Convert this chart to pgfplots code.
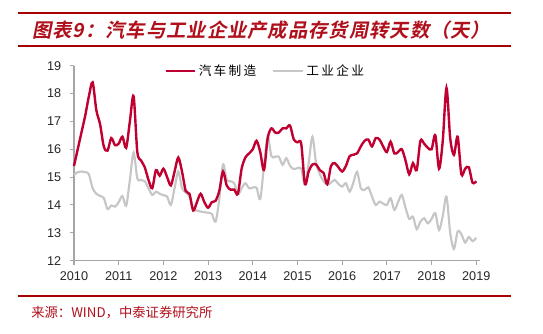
\documentclass[border=0pt]{standalone}
\usepackage{fontspec}
\usepackage{pgfplots}
\usepackage{pgfplotstable}
\pgfplotsset{compat=1.18}
\setmainfont{Liberation Sans}
\newfontfamily\cjk{Noto Sans CJK SC}
\newfontfamily\cjkls{Noto Sans CJK SC}[LetterSpace=18]
\newfontfamily\cjkb{Noto Sans CJK SC Bold}[FakeSlant=0.2, LetterSpace=5]
\definecolor{autored}{HTML}{C00030}
\definecolor{indgray}{HTML}{C6C6C6}
\definecolor{titlered}{HTML}{B0101C}
\definecolor{linered}{HTML}{A80000}
\definecolor{axgray}{HTML}{A6A6A6}

\pgfplotstableread{
m car ind
0 15.4 15.08
1 16.0 15.18
2 16.6 15.2
3 17.2 15.18
4 17.9 15.1
5 18.4 14.6
6 17.4 14.4
7 16.9 14.32
8 16.1 14.25
9 15.95 13.85
10 16.4 13.98
11 16.15 13.94
12 16.2 14.1
13 16.45 14.32
14 16.05 13.97
15 17.0 14.9
16 17.9 15.88
17 15.9 14.95
18 15.6 14.9
19 15.35 14.85
20 14.9 14.6
21 14.6 14.36
22 15.25 14.48
23 15.05 14.4
24 15.3 14.35
25 15.0 14.3
26 14.7 14.0
27 15.2 14.6
28 15.7 15.2
29 15.2 14.6
30 14.5 14.45
31 14.4 14.3
32 13.8 13.85
33 14.1 13.8
34 14.4 13.76
35 14.1 13.74
36 13.9 13.72
37 14.1 13.68
38 14.15 13.4
39 14.5 14.2
40 15.2 15.45
41 14.7 14.9
42 14.55 14.85
43 14.55 14.78
44 14.4 14.38
45 15.3 14.6
46 15.7 14.78
47 15.85 14.6
48 16.0 14.62
49 16.3 14.62
50 15.9 14.21
51 15.25 15.4
52 16.4 16.45
53 16.75 15.75
54 16.6 15.73
55 16.6 15.73
56 16.75 15.44
57 16.75 15.68
58 16.85 15.4
59 16.35 15.29
60 16.25 15.32
61 16.2 15.3
62 14.75 14.72
63 15.2 15.5
64 15.45 16.45
65 15.45 15.5
66 15.25 15.1
67 15.15 14.85
68 14.75 14.72
69 15.4 14.8
70 15.5 14.9
71 15.35 14.75
72 15.2 14.66
73 15.4 14.78
74 15.75 14.48
75 15.8 14.8
76 15.85 15.19
77 16.1 14.6
78 16.3 14.54
79 16.35 14.63
80 16.1 14.3
81 16.4 14.0
82 16.35 14.12
83 16.1 14.05
84 15.9 14.0
85 16.27 14.24
86 15.85 13.82
87 15.9 14.1
88 16.0 14.36
89 15.6 13.9
90 15.1 13.5
91 15.5 13.58
92 15.25 13.13
93 16.3 13.4
94 16.2 13.52
95 16.05 13.34
96 16.0 13.5
97 16.5 13.7
98 15.3 13.1
99 16.3 13.6
100 18.2 14.3
101 16.4 13.0
102 15.8 12.42
103 16.45 13.05
104 15.1 12.95
105 15.3 12.65
106 15.35 12.85
107 14.8 12.7
108 14.85 12.82
}\data

\begin{document}
\begin{tikzpicture}
\begin{scope}[x=0.75pt,y=0.75pt]
\path[use as bounding box] (0,0) rectangle (543,334);
\draw[linered, line width=2.2pt] (18,321) -- (511,321);
\node[anchor=west, text=titlered, font=\cjkb\fontsize{14.5}{16}\selectfont, inner sep=0pt] at (32,303.5) {图表9：汽车与工业企业产成品存货周转天数（天）};
\draw[linered, line width=0.8pt] (18,288) -- (511,288);
\draw[linered, line width=0.8pt] (18,38) -- (511,38);
\node[anchor=west, text=titlered, font=\cjk\fontsize{10}{12}\selectfont, inner sep=0pt] at (31,21) {来源：WIND，中泰证券研究所};
\end{scope}
\begin{axis}[
  at={(55.5pt,55pt)}, anchor=south west,
  scale only axis, width=304.5pt, height=146.25pt,
  xmin=0, xmax=109, ymin=12, ymax=19,
  axis x line=bottom, axis y line=left,
  axis line style={draw=axgray, line width=0.8pt, -},
  tick style={draw=axgray, line width=0.8pt},
  tick align=outside, major tick length=3pt,
  xtick={0,12,...,108},
  xticklabels={2010,2011,2012,2013,2014,2015,2016,2017,2018,2019},
  ytick={12,13,...,19},
  /pgf/number format/assume math mode=true,
  ticklabel style={font=\fontsize{9.5}{11}\selectfont, text=black!85},
  xticklabel style={yshift=-2pt},
  yticklabel style={xshift=-3pt},
  legend style={at={(0.4717,0.973)}, anchor=center, draw=none, fill=none,
    legend columns=2, font=\cjkls\fontsize{9.5}{11}\selectfont,
    /tikz/every even column/.append style={column sep=10pt}},
  legend image code/.code={\draw[#1] (0pt,0pt) -- (22pt,0pt);},
  clip=false,
]
\addlegendimage{autored, line width=1.8pt}
\addlegendentry{汽车制造}
\addlegendimage{indgray, line width=1.6pt}
\addlegendentry{工业企业}
\addplot[indgray, line width=1.6pt, smooth, tension=0.5, forget plot] table[x=m, y=ind] {\data};
\addplot[autored, line width=1.8pt, smooth, tension=0.5, forget plot] table[x=m, y=car] {\data};
\end{axis}
\end{tikzpicture}
\end{document}
